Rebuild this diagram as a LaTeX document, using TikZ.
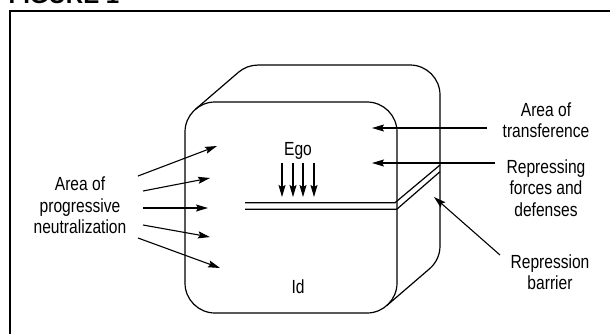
\documentclass[tikz,border=0pt]{standalone}
\usepackage{fontspec}
\setmainfont{Liberation Sans}[FakeStretch=0.82]
\newfontfamily\titlefont{Liberation Sans}
\usetikzlibrary{arrows.meta}
\begin{document}
\begin{tikzpicture}[x=1pt,y=-1pt,line width=1.2pt,
  lbl/.style={font=\fontsize{19}{21.5}\selectfont, align=center, inner sep=0pt},
  arr/.style={-{Stealth[length=12pt,width=7pt,inset=2pt]}, line width=1.1pt}]
\useasboundingbox (0,0) rectangle (610,333);
% title and frame
\node[anchor=base west, inner sep=0pt, font=\titlefont\bfseries\fontsize{24}{24}\selectfont] (title) at (8,3) {FIGURE 1};
\draw[line width=2pt] (10,345) -- (10,11) -- (620,11);
% cube
\draw (238.4,72.3) arc[start angle=229.3,end angle=270,radius=30] -- (410,65)
      arc[start angle=270,end angle=360,radius=30] -- (440,246)
      arc[start angle=0,end angle=49.3,radius=30] -- (386.6,305.7);
\draw (195.4,109.3) -- (238.4,72.3);
\draw[rounded corners=30pt] (185,102) rectangle (397,313);
% repression barrier double line
\draw (245,202.7) -- (395,202.7) -- (440,165);
\draw (245,209.3) -- (396.7,209.3) -- (440,171.7);
% labels
\node[lbl] (trans) at (546,120) {Area of\\transference};
\node[lbl] (repf) at (546,188) {Repressing\\forces and\\defenses};
\node[lbl] (repb) at (550,272) {Repression\\barrier};
\node[lbl] (neut) at (80,205.5) {Area of\\progressive\\neutralization};
\node[lbl, anchor=base] (ego) at (298,155) {Ego};
\node[lbl, anchor=base] (id) at (298,293) {Id};
% arrow end points
\coordinate (t1) at (487,128); \coordinate (t1e) at (372,128);
\coordinate (r1) at (495,163); \coordinate (r1e) at (372,163);
\coordinate (b1) at (500,255); \coordinate (b1e) at (434,197);
\coordinate (n1) at (138,176); \coordinate (n1e) at (217,146);
\coordinate (n2) at (143,191); \coordinate (n2e) at (210,178);
\coordinate (n3) at (143,208); \coordinate (n3e) at (208,208);
\coordinate (n4) at (143,225); \coordinate (n4e) at (210,237);
\coordinate (n5) at (138,238); \coordinate (n5e) at (220,268);
\foreach \i in {t1,r1,b1,n1,n2,n3,n4,n5} \draw[arr] (\i) -- (\i e);
\foreach \x [count=\k] in {282,293,303,314} {
  \coordinate (e\k) at (\x,163); \coordinate (e\k e) at (\x,197);
  \draw[arr] (e\k) -- (e\k e);
}
\end{tikzpicture}
\end{document}
